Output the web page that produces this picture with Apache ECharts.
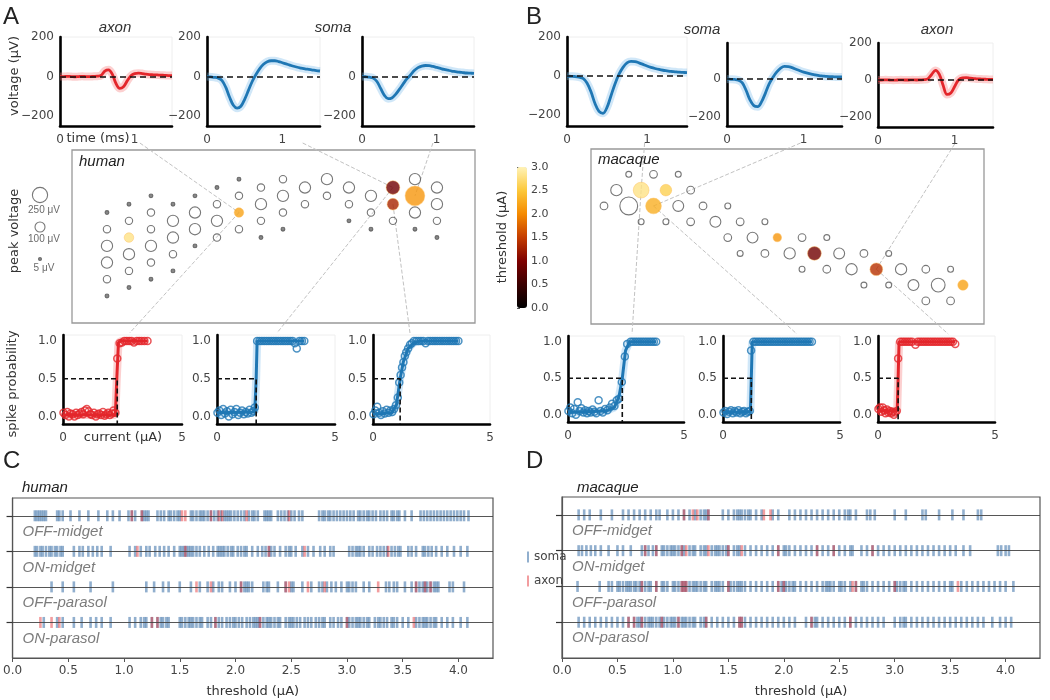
<!DOCTYPE html>
<html>
<head>
<meta charset="utf-8">
<script src="https://cdn.jsdelivr.net/npm/echarts@6/dist/echarts.min.js"></script>
<style>html,body{margin:0;padding:0;background:#fff}#chart{width:1050px;height:700px}</style>
</head>
<body>
<div id="chart"></div>
<script>
// ======================= DATA =======================
const waveTime = [0,0.05,0.1,0.15,0.2,0.25,0.3,0.35,0.4,0.45,0.5,0.55,0.6,0.65,0.7,0.75,0.8,0.85,0.9,0.95,1.0,1.05,1.1,1.15,1.2,1.25,1.3,1.35,1.4,1.45,1.5];
const humanAxonWave   = [0,0,1,0,-1,0,1,0,0,1,2,6,28,34,12,-35,-60,-52,-22,4,15,17,15,12,10,9,8,7,6,5,5];
const humanSomaWave1  = [0,-2,-4,-8,-20,-55,-105,-145,-160,-150,-115,-70,-25,10,40,62,75,80,80,76,70,64,58,52,47,43,39,36,33,30,28];
const humanSomaWave2  = [0,-1,-3,-8,-25,-60,-95,-112,-108,-90,-65,-38,-12,8,30,45,53,56,55,51,46,41,36,32,28,25,22,20,18,17,16];
const macaqueSomaWave1 = [0,-1,-2,-5,-12,-35,-80,-140,-180,-190,-160,-100,-40,10,45,68,75,74,68,60,52,45,39,34,30,27,24,22,20,19,18];
const macaqueSomaWave2 = [0,-1,-2,-6,-20,-60,-110,-140,-145,-120,-75,-25,10,38,58,67,66,60,52,44,37,31,26,22,18,16,14,13,12,11,11];
const macaqueAxonWave  = [0,0,1,0,-1,0,1,0,0,1,0,1,2,6,30,52,30,-30,-78,-70,-35,0,12,13,10,8,6,5,4,3,3];
const waveLabelsFull = [-200,0,200];
const waveLabelsShort = [-200,0];

// electrodes: [column, row, peak voltage (µV)] ; filled: [column, row, peak voltage, threshold (µA)]
const humanHollow = [
 [0,4,10],[0,6,50],[0,8,130],[0,10,130],[0,12,50],[0,14,10],
 [1,3,10],[1,5,50],[1,9,130],[1,11,50],[1,13,10],
 [2,2,10],[2,4,50],[2,6,50],[2,8,130],[2,10,50],[2,12,10],
 [3,3,10],[3,5,130],[3,7,130],[3,9,50],[3,11,10],
 [4,2,10],[4,4,130],[4,6,130],[4,8,10],
 [5,1,10],[5,3,50],[5,5,130],[5,7,50],
 [6,0,10],[6,2,50],[6,6,50],
 [7,1,50],[7,3,130],[7,5,50],[7,7,10],
 [8,0,50],[8,2,130],[8,4,50],[8,6,10],
 [9,1,130],[9,3,50],
 [10,0,130],[10,2,50],
 [11,1,130],[11,3,50],[11,5,10],
 [12,2,130],[12,4,50],[12,6,10],
 [13,5,50],
 [14,0,130],[14,4,130],[14,6,10],
 [15,1,130],[15,3,130],[15,5,50],[15,7,10]
];
const humanFilled = [[1,7,90,2.8],[6,4,90,2.2],[13,1,200,0.9],[13,3,140,1.3],[14,2,430,2.1]];
const macaqueHollow = [
 [2,1,30],[4,1,55],[6,1,30],
 [1,2,130],[7,2,55],
 [0,3,55],[2,3,350],[6,3,120],[8,3,55],[10,3,30],
 [3,4,30],[5,4,30],[7,4,55],[9,4,120],[11,4,55],[13,4,30],
 [10,5,55],[12,5,120],[16,5,55],[18,5,30],
 [11,6,30],[13,6,55],[15,6,130],[19,6,120],[21,6,55],[23,6,30],
 [16,7,30],[18,7,55],[20,7,130],[24,7,130],[26,7,55],[28,7,30],
 [21,8,30],[23,8,30],[25,8,120],[27,8,200],
 [26,9,55],[28,9,55]
];
const macaqueFilled = [[3,2,270,2.8],[5,2,140,2.6],[4,3,270,2.3],[14,5,70,2.1],[17,6,200,0.9],[22,7,170,1.4],[29,8,110,2.2]];
const sizeLegendValues = [250,100,5];
const colorbarTicks = [0,0.5,1,1.5,2,2.5,3];

// spike probability: [current (µA), probability]
const humanAxonSpike = [[0.02,0.05],[0.1,0.02],[0.18,0.06],[0.25,0],[0.32,0.04],[0.4,0.03],[0.48,0],[0.55,0.05],[0.62,0.02],[0.7,0.04],[0.78,0.06],[0.85,0.03],[0.92,0.08],[1.0,0.1],[1.08,0.07],[1.15,0.03],[1.22,0.02],[1.3,0.05],[1.38,0],[1.45,0.03],[1.52,0.04],[1.6,0.02],[1.68,0.06],[1.75,0.01],[1.82,0.03],[1.9,0.05],[1.97,0.02],[2.05,0.04],[2.12,0.08],[2.2,0.05],[2.28,0.77],[2.38,0.97],[2.48,0.98],[2.58,1],[2.68,1],[2.78,1],[2.88,1],[2.98,0.98],[3.1,1],[3.2,1],[3.3,1],[3.42,1],[3.55,1]];
const humanAxonFit = [[0,0.02],[2.2,0.02],[2.26,0.5],[2.33,0.98],[2.45,1],[3.55,1]];
const humanSoma1Spike = [[0.02,0.05],[0.1,0.08],[0.18,0.02],[0.26,0.1],[0.34,0.04],[0.42,0.07],[0.5,0],[0.58,0.09],[0.66,0.03],[0.74,0.06],[0.82,0.1],[0.9,0.02],[0.98,0.05],[1.06,0.08],[1.14,0.03],[1.22,0.06],[1.3,0.04],[1.38,0.09],[1.46,0.05],[1.54,0.07],[1.6,0.12],[1.7,1],[1.8,1],[1.9,1],[2.0,1],[2.1,1],[2.2,1],[2.3,1],[2.4,1],[2.5,1],[2.6,1],[2.7,1],[2.8,1],[2.9,1],[3.0,1],[3.1,1],[3.2,1],[3.3,0.97],[3.38,0.9],[3.5,1],[3.6,1],[3.7,1]];
const humanSoma1Fit = [[0,0.05],[1.6,0.06],[1.66,0.5],[1.7,1],[3.7,1]];
const humanSoma2Spike = [[0.02,0.03],[0.1,0.08],[0.18,0.13],[0.26,0.05],[0.34,0.02],[0.42,0.07],[0.5,0.04],[0.58,0.09],[0.66,0.05],[0.74,0.08],[0.82,0.06],[0.9,0.1],[0.98,0.15],[1.06,0.25],[1.12,0.45],[1.18,0.55],[1.24,0.65],[1.3,0.72],[1.36,0.8],[1.42,0.85],[1.5,0.9],[1.58,0.95],[1.66,0.97],[1.75,1],[1.85,1],[1.95,1],[2.05,1],[2.15,1],[2.25,0.97],[2.35,1],[2.45,1],[2.55,1],[2.65,1],[2.75,1],[2.85,1],[2.95,1],[3.05,1],[3.15,1],[3.25,1],[3.35,1],[3.45,1],[3.55,1],[3.65,1]];
const humanSoma2Fit = [[0,0.03],[0.8,0.05],[1.0,0.15],[1.16,0.5],[1.3,0.73],[1.5,0.9],[1.75,0.98],[2.0,1],[3.65,1]];
const macaqueSoma1Spike = [[0.02,0.05],[0.1,0.1],[0.18,0.02],[0.26,0.08],[0.34,0],[0.42,0.17],[0.5,0.05],[0.58,0.09],[0.66,0.03],[0.74,0.06],[0.82,0.02],[0.9,0.05],[0.98,0.03],[1.06,0.07],[1.14,0.04],[1.22,0.02],[1.32,0.2],[1.4,0.05],[1.5,0.03],[1.6,0.08],[1.7,0.06],[1.8,0.1],[1.9,0.15],[2.0,0.12],[2.1,0.2],[2.2,0.22],[2.32,0.45],[2.45,0.8],[2.55,0.97],[2.7,1],[2.8,1],[2.9,1],[3.0,1],[3.1,1],[3.2,1],[3.3,1],[3.4,1],[3.5,1],[3.6,1],[3.7,1],[3.8,1]];
const macaqueSoma1Fit = [[0,0.03],[1.6,0.05],[2.0,0.1],[2.2,0.25],[2.34,0.5],[2.48,0.88],[2.65,1],[3.8,1]];
const macaqueSoma2Spike = [[0.02,0.03],[0.1,0.05],[0.18,0.01],[0.26,0.04],[0.34,0.06],[0.42,0.02],[0.5,0.05],[0.58,0.03],[0.66,0.06],[0.74,0.02],[0.82,0.04],[0.9,0.05],[0.98,0.02],[1.06,0.04],[1.14,0.05],[1.2,0.88],[1.3,1],[1.4,1],[1.5,1],[1.6,1],[1.7,1],[1.8,1],[1.9,1],[2.0,1],[2.1,1],[2.2,1],[2.3,1],[2.4,1],[2.5,1],[2.6,1],[2.7,1],[2.8,1],[2.9,1],[3.0,1],[3.1,1],[3.2,1],[3.3,1],[3.4,1],[3.5,1],[3.6,1],[3.7,1],[3.8,1]];
const macaqueSoma2Fit = [[0,0.03],[1.17,0.04],[1.21,0.5],[1.25,1],[3.8,1]];
const macaqueAxonSpike = [[0.02,0.08],[0.08,0.1],[0.14,0.04],[0.2,0.1],[0.26,0.06],[0.32,0.02],[0.38,0.07],[0.44,0.03],[0.5,0.05],[0.56,0.02],[0.62,0.04],[0.68,0],[0.74,0.03],[0.8,0.05],[0.86,0.77],[0.95,1],[1.05,1],[1.15,1],[1.25,1],[1.35,1],[1.45,1],[1.6,0.96],[1.7,1],[1.8,1],[1.9,1],[2.0,1],[2.1,1],[2.2,1],[2.3,1],[2.4,1],[2.5,1],[2.6,1],[2.7,1],[2.8,1],[2.9,1],[3.0,1],[3.1,1],[3.2,1],[3.3,0.97]];
const macaqueAxonFit = [[0,0.05],[0.82,0.05],[0.86,0.5],[0.9,1],[3.3,1]];
const humanThreshold = [2.28,1.66,1.16];
const macaqueThreshold = [2.34,1.21,0.86];
const spikeYLabels = [0,0.5,1];
const spikeXLabels = [0,5];

// rasters of thresholds (µA) per cell type
const cellTypes = ['OFF-midget','ON-midget','OFF-parasol','ON-parasol'];
const rasterTicks = [0,0.5,1,1.5,2,2.5,3,3.5,4];
const humanSomaThr = [
 [0.2,0.22,0.24,0.26,0.28,0.3,0.4,0.42,0.45,0.52,0.6,0.68,0.77,0.85,0.9,0.96,1.04,1.07,1.1,1.16,1.18,1.2,1.22,1.3,1.33,1.36,1.4,1.42,1.45,1.48,1.5,1.6,1.62,1.65,1.68,1.7,1.72,1.75,1.78,1.81,1.84,1.87,1.9,1.92,1.94,1.96,1.99,2.02,2.05,2.08,2.12,2.15,2.17,2.2,2.26,2.28,2.3,2.32,2.38,2.41,2.44,2.47,2.5,2.53,2.57,2.6,2.75,2.78,2.8,2.83,2.85,2.88,2.91,2.94,2.97,3.0,3.03,3.06,3.1,3.12,3.15,3.18,3.2,3.23,3.26,3.3,3.33,3.36,3.4,3.42,3.45,3.47,3.52,3.58,3.66,3.69,3.72,3.75,3.78,3.81,3.84,3.87,3.9,3.93,3.96,3.99,4.02,4.05,4.09],
 [0.2,0.22,0.25,0.27,0.3,0.33,0.35,0.38,0.4,0.43,0.45,0.55,0.6,0.63,0.68,0.72,0.76,0.8,0.88,1.05,1.1,1.15,1.2,1.23,1.28,1.32,1.36,1.4,1.45,1.5,1.52,1.54,1.56,1.58,1.6,1.62,1.65,1.68,1.72,1.76,1.8,1.84,1.86,1.88,1.9,1.93,1.96,1.98,2.02,2.05,2.08,2.1,2.15,2.2,2.24,2.27,2.3,2.32,2.35,2.4,2.45,2.48,2.5,2.54,2.6,2.65,2.7,2.76,2.8,2.85,2.88,3.02,3.05,3.08,3.1,3.12,3.15,3.2,3.23,3.27,3.3,3.33,3.36,3.4,3.43,3.46,3.48,3.55,3.58,3.62,3.68,3.7,3.73,3.76,3.8,3.85,3.9,3.96,4.02,4.08],
 [0.35,0.45,0.55,0.7,0.9,1.2,1.27,1.35,1.4,1.5,1.6,1.68,1.75,1.8,1.85,1.88,1.95,2.0,2.05,2.08,2.1,2.12,2.15,2.25,2.28,2.3,2.38,2.45,2.5,2.52,2.6,2.68,2.75,2.78,2.82,2.86,2.9,2.95,3.0,3.02,3.05,3.08,3.15,3.2,3.35,3.38,3.42,3.45,3.52,3.58,3.62,3.65,3.68,3.7,3.72,3.75,3.78,3.8,3.82,3.92,3.95,4.05],
 [0.28,0.4,0.45,0.55,0.62,0.7,0.75,0.8,0.88,1.05,1.1,1.15,1.18,1.2,1.25,1.3,1.33,1.35,1.38,1.4,1.5,1.52,1.55,1.58,1.6,1.62,1.65,1.68,1.7,1.75,1.78,1.82,1.85,1.88,1.92,1.95,1.98,2.0,2.03,2.06,2.1,2.13,2.16,2.18,2.2,2.22,2.25,2.28,2.3,2.32,2.35,2.38,2.4,2.45,2.48,2.5,2.52,2.55,2.58,2.62,2.65,2.68,2.72,2.75,2.78,2.8,2.85,2.88,2.92,2.95,3.0,3.02,3.05,3.08,3.1,3.12,3.15,3.18,3.2,3.25,3.28,3.3,3.33,3.36,3.4,3.42,3.45,3.5,3.55,3.62,3.65,3.68,3.7,3.72,3.75,3.78,3.8,3.85,3.9,3.95,4.02,4.08]
];
const humanAxonThr = [
 [1.07,1.16,1.52,1.55,1.78,1.85,1.88,2.1,2.48],
 [1.12,1.55,2.3,2.62,3.37],
 [1.65,1.78,2.05,2.45,2.48,2.65,2.8,3.28,3.62,3.7,3.75],
 [0.25,0.35,0.42,1.25,1.3,1.82,2.22,3.0,3.6]
];
const macaqueSomaThr = [
 [0.15,0.2,0.25,0.35,0.45,0.55,0.6,0.65,0.7,0.75,0.8,0.85,0.88,0.95,1.0,1.05,1.1,1.15,1.2,1.25,1.28,1.3,1.32,1.45,1.5,1.55,1.58,1.6,1.62,1.65,1.68,1.7,1.75,1.8,1.9,1.95,2.05,2.1,2.15,2.2,2.25,2.3,2.35,2.4,2.45,2.5,2.55,2.58,2.6,2.65,2.75,2.78,2.82,3.0,3.1,3.25,3.28,3.4,3.52,3.62,3.75,3.78],
 [0.15,0.18,0.22,0.26,0.3,0.35,0.42,0.5,0.55,0.62,0.72,0.75,0.78,0.82,0.85,0.9,0.92,0.95,0.98,1.0,1.02,1.05,1.08,1.1,1.15,1.18,1.2,1.25,1.28,1.3,1.35,1.38,1.4,1.42,1.45,1.48,1.5,1.55,1.58,1.6,1.65,1.7,1.75,1.8,1.85,1.9,1.95,2.0,2.02,2.05,2.1,2.15,2.2,2.25,2.3,2.35,2.4,2.45,2.5,2.55,2.6,2.62,2.7,2.75,2.8,2.85,2.9,2.95,3.0,3.05,3.1,3.15,3.2,3.25,3.3,3.35,3.4,3.45,3.5,3.55,3.62,3.68,3.93,3.96,4.0,4.03],
 [0.14,0.34,0.42,0.45,0.5,0.52,0.55,0.58,0.6,0.62,0.65,0.67,0.7,0.72,0.75,0.78,0.8,0.85,0.9,0.92,0.95,1.0,1.02,1.05,1.08,1.1,1.12,1.15,1.18,1.2,1.22,1.25,1.28,1.3,1.35,1.38,1.4,1.42,1.45,1.5,1.52,1.55,1.58,1.6,1.62,1.65,1.7,1.75,1.8,1.85,1.9,1.95,1.98,2.0,2.02,2.05,2.08,2.1,2.15,2.2,2.25,2.3,2.35,2.38,2.4,2.42,2.45,2.5,2.52,2.55,2.6,2.65,2.7,2.72,2.75,2.8,2.85,2.9,2.95,3.0,3.02,3.05,3.08,3.1,3.15,3.2,3.25,3.3,3.35,3.4,3.45,3.5,3.52,3.6,3.65,3.7,3.75,3.8,3.85,3.9,3.95,4.0,4.07],
 [0.15,0.2,0.25,0.3,0.35,0.4,0.45,0.5,0.55,0.6,0.65,0.68,0.7,0.72,0.75,0.78,0.8,0.82,0.85,0.88,0.9,0.92,0.95,0.98,1.0,1.02,1.05,1.08,1.1,1.12,1.15,1.18,1.2,1.25,1.28,1.3,1.35,1.4,1.45,1.5,1.55,1.6,1.62,1.65,1.7,1.75,1.8,1.85,1.9,1.95,2.0,2.05,2.1,2.2,2.25,2.28,2.3,2.35,2.4,2.45,2.5,2.55,2.6,2.65,2.7,2.75,2.8,2.85,2.9,3.0,3.05,3.08,3.1,3.15,3.2,3.25,3.3,3.35,3.4,3.45,3.5,3.55,3.6,3.65,3.7,3.75,3.8,3.88,3.95,4.0,4.05]
];
const macaqueAxonThr = [
 [1.1,1.18,1.22,1.32,1.82,1.88],
 [0.75,0.85,1.08,1.12,1.32,1.5,1.62,1.95,2.3,2.45,2.8],
 [0.72,0.85,1.08,1.1,1.12,1.5,1.95,2.0,2.62,2.65,3.0,3.57],
 [0.6,0.65,0.72,0.9,1.05,1.3,1.6,1.62,2.25,2.6]
];

// ======================= STYLE / LAYOUT =======================
const BLUE = '#1f77b4', RED = '#e3262b';
const BLUE_HALO = 'rgba(120,185,235,0.35)', RED_HALO = 'rgba(245,120,120,0.35)';
const TICKFONT = 'DejaVu Sans', TEXTFONT = 'Liberation Sans';
const minus = v => (v < 0 ? '\u2212' + (-v) : String(v));

const grids = [], xAxes = [], yAxes = [], series = [];
function addGrid(g, xa, ya) {
  grids.push(g);
  const i = grids.length - 1;
  xAxes.push(Object.assign({ gridIndex: i }, xa));
  yAxes.push(Object.assign({ gridIndex: i }, ya));
  return i;
}
const blackAxisLine = { show: true, onZero: false, lineStyle: { color: '#000', width: 2.6 } };
const tickLabel = { color: '#444', fontSize: 12, fontFamily: TICKFONT };

// ---- waveform panels ----
const wavePanels = [
  { data: humanAxonWave,    color: RED,  halo: RED_HALO,  box: [60, 37, 112, 89],  yMin: -250, yMax: 200, labels: waveLabelsFull },
  { data: humanSomaWave1,   color: BLUE, halo: BLUE_HALO, box: [207, 37, 113, 89], yMin: -250, yMax: 200, labels: waveLabelsFull },
  { data: humanSomaWave2,   color: BLUE, halo: BLUE_HALO, box: [362, 37, 112, 89], yMin: -250, yMax: 200, labels: waveLabelsShort },
  { data: macaqueSomaWave1, color: BLUE, halo: BLUE_HALO, box: [567, 37, 120, 89], yMin: -255, yMax: 200, labels: waveLabelsFull },
  { data: macaqueSomaWave2, color: BLUE, halo: BLUE_HALO, box: [727, 43, 115, 83], yMin: -247, yMax: 190, labels: waveLabelsShort },
  { data: macaqueAxonWave,  color: RED,  halo: RED_HALO,  box: [878, 43, 115, 84], yMin: -254, yMax: 200, labels: waveLabelsFull }
];
const waveGridIdx = wavePanels.map(p => {
  const g = addGrid(
    { left: p.box[0], top: p.box[1], width: p.box[2], height: p.box[3], show: true, borderColor: '#eeeeee', borderWidth: 1 },
    { type: 'value', min: 0, max: 1.5, axisLine: blackAxisLine, axisTick: { show: false },
      axisLabel: Object.assign({ customValues: [0, 1], margin: 8 }, tickLabel), splitLine: { show: false } },
    { type: 'value', min: p.yMin, max: p.yMax, axisLine: blackAxisLine, axisTick: { show: false },
      axisLabel: Object.assign({ customValues: p.labels, formatter: minus, margin: 6 }, tickLabel), splitLine: { show: false } }
  );
  const pts = waveTime.map((t, k) => [t, p.data[k]]);
  series.push({ type: 'line', xAxisIndex: g, yAxisIndex: g, data: pts, smooth: 0.35, showSymbol: false, silent: true,
    lineStyle: { color: p.halo, width: 8 }, z: 1 });
  series.push({ type: 'line', xAxisIndex: g, yAxisIndex: g, data: pts, smooth: 0.35, showSymbol: false, silent: true,
    lineStyle: { color: p.color, width: 2.8 }, z: 3,
    markLine: { silent: true, symbol: 'none', label: { show: false }, lineStyle: { color: '#111', type: [6, 4], width: 1.6 },
      data: [{ yAxis: 0 }] } });
  return g;
});

// ---- bubble (electrode array) panels ----
const bubbleSize = d => 0.9 * Math.sqrt(d[2]) + 1;
const hollowFill = p => (p.value[2] <= 15 ? '#6a6a6a' : 'rgba(255,255,255,0)');
const filledSeriesIdx = [];
function bubblePanel(box, xr, yr, hollow, filled) {
  const g = addGrid(
    { left: box[0], top: box[1], width: box[2], height: box[3], show: true, borderColor: '#999', borderWidth: 1.3 },
    { type: 'value', min: xr[0], max: xr[1], show: false },
    { type: 'value', min: yr[0], max: yr[1], inverse: true, show: false }
  );
  series.push({ type: 'scatter', xAxisIndex: g, yAxisIndex: g, data: hollow, symbolSize: bubbleSize, silent: true, z: 3,
    itemStyle: { color: hollowFill, borderColor: '#555', borderWidth: 1.1 } });
  series.push({ type: 'scatter', xAxisIndex: g, yAxisIndex: g, data: filled, symbolSize: bubbleSize, silent: true, z: 4,
    itemStyle: { borderColor: 'rgba(255,190,90,0.55)', borderWidth: 1 } });
  filledSeriesIdx.push(series.length - 1);
  return g;
}
const humanBubbleGrid = bubblePanel([72, 150, 403, 173], [-1.59, 16.73], [-3.5, 17.25], humanHollow, humanFilled);
const macaqueBubbleGrid = bubblePanel([591, 149, 393, 175], [-1.05, 30.7], [-0.6, 10.46], macaqueHollow, macaqueFilled);

// size legend
const legGrid = addGrid({ left: 30, top: 195, width: 20, height: 64 },
  { type: 'value', min: 0, max: 1, show: false }, { type: 'value', min: 0, max: 2, inverse: true, show: false });
series.push({ type: 'scatter', xAxisIndex: legGrid, yAxisIndex: legGrid, silent: true,
  data: sizeLegendValues.map((v, i) => [0.5, i, v]), symbolSize: bubbleSize,
  itemStyle: { color: hollowFill, borderColor: '#555', borderWidth: 1.1 },
  label: { show: true, position: 'bottom', distance: 2, offset: [4, 0], formatter: p => p.value[2] + ' \u03bcV',
    fontSize: 10, color: '#444', fontFamily: TEXTFONT } });

// colorbar axis
const cbGrid = addGrid({ left: 517, top: 167, width: 10, height: 141 },
  { type: 'value', min: 0, max: 1, show: false },
  { type: 'value', min: 0, max: 3, position: 'right', axisLine: { show: false },
    axisTick: { show: true, customValues: colorbarTicks, length: 3, lineStyle: { color: '#555' } },
    axisLabel: Object.assign({ customValues: colorbarTicks, formatter: v => v.toFixed(1), margin: 4 }, tickLabel, { fontSize: 11 }),
    splitLine: { show: false } });

// ---- spike probability panels ----
const spikePanels = [
  { pts: humanAxonSpike,    fit: humanAxonFit,    thr: humanThreshold[0],   color: RED,  halo: RED_HALO,  box: [63, 335, 119, 89] },
  { pts: humanSoma1Spike,   fit: humanSoma1Fit,   thr: humanThreshold[1],   color: BLUE, halo: BLUE_HALO, box: [217, 335, 118, 89] },
  { pts: humanSoma2Spike,   fit: humanSoma2Fit,   thr: humanThreshold[2],   color: BLUE, halo: BLUE_HALO, box: [373, 335, 117, 89] },
  { pts: macaqueSoma1Spike, fit: macaqueSoma1Fit, thr: macaqueThreshold[0], color: BLUE, halo: BLUE_HALO, box: [568, 336, 116, 86] },
  { pts: macaqueSoma2Spike, fit: macaqueSoma2Fit, thr: macaqueThreshold[1], color: BLUE, halo: BLUE_HALO, box: [723, 336, 117, 86] },
  { pts: macaqueAxonSpike,  fit: macaqueAxonFit,  thr: macaqueThreshold[2], color: RED,  halo: RED_HALO,  box: [878, 336, 117, 86] }
];
const SPIKE_MIN = -0.1, SPIKE_MAX = 1.08;
const spikeGridIdx = spikePanels.map(p => {
  const g = addGrid(
    { left: p.box[0], top: p.box[1], width: p.box[2], height: p.box[3], show: true, borderColor: '#eeeeee', borderWidth: 1 },
    { type: 'value', min: 0, max: 5, axisLine: blackAxisLine, axisTick: { show: false },
      axisLabel: Object.assign({ customValues: spikeXLabels, margin: 8 }, tickLabel), splitLine: { show: false } },
    { type: 'value', min: SPIKE_MIN, max: SPIKE_MAX, axisLine: blackAxisLine, axisTick: { show: false },
      axisLabel: Object.assign({ customValues: spikeYLabels, formatter: v => v.toFixed(1), margin: 6 }, tickLabel), splitLine: { show: false } }
  );
  series.push({ type: 'line', xAxisIndex: g, yAxisIndex: g, data: p.fit, showSymbol: false, silent: true,
    lineStyle: { color: p.halo, width: 8 }, z: 1 });
  series.push({ type: 'scatter', xAxisIndex: g, yAxisIndex: g, data: p.pts, symbolSize: 7, silent: true, z: 2,
    itemStyle: { color: 'rgba(255,255,255,0)', borderColor: p.color, borderWidth: 1.5 } });
  series.push({ type: 'line', xAxisIndex: g, yAxisIndex: g, data: p.fit, showSymbol: false, silent: true,
    lineStyle: { color: p.color, width: 3 }, z: 3 });
  series.push({ type: 'line', xAxisIndex: g, yAxisIndex: g, data: [[0, 0.5], [p.thr, 0.5], [p.thr, SPIKE_MIN]],
    showSymbol: false, silent: true, lineStyle: { color: '#111', width: 1.6, type: [5, 3] }, z: 4 });
  return g;
});

// ---- raster panels ----
function rasterPanel(box, somaRows, axonRows) {
  const g = addGrid(
    { left: box[0], top: box[1], width: box[2], height: box[3], show: true, borderColor: '#555', borderWidth: 1.2 },
    { type: 'value', min: 0, max: 4.31, axisLine: { show: true, onZero: false, lineStyle: { color: '#555', width: 1.2 } },
      axisTick: { show: true, customValues: rasterTicks, length: 4, lineStyle: { color: '#555' } },
      axisLabel: Object.assign({ customValues: rasterTicks, formatter: v => v.toFixed(1), margin: 7 }, tickLabel),
      splitLine: { show: false },
      name: 'threshold (\u03bcA)', nameLocation: 'middle', nameGap: 27,
      nameTextStyle: { fontSize: 13, color: '#333', fontFamily: TICKFONT } },
    { type: 'value', min: -0.5, max: 4, inverse: true,
      axisLine: { show: true, onZero: false, lineStyle: { color: '#555', width: 1.2 } },
      axisTick: { show: true, customValues: cellTypes.map((c, i) => i), length: 6, lineStyle: { color: '#333', width: 1.2 } },
      axisLabel: { show: true, inside: true, customValues: cellTypes.map((c, i) => i + 0.45), margin: 10,
        formatter: v => cellTypes[Math.round(v - 0.45)], fontStyle: 'italic', fontSize: 15, color: '#7c7c7c', fontFamily: TEXTFONT },
      splitLine: { show: false } }
  );
  const somaData = [], axonData = [];
  somaRows.forEach((row, i) => row.forEach(v => somaData.push([v, i])));
  axonRows.forEach((row, i) => row.forEach(v => axonData.push([v, i])));
  series.push({ type: 'scatter', name: 'soma', xAxisIndex: g, yAxisIndex: g, data: somaData, symbol: 'rect', symbolSize: [2.6, 11],
    silent: true, itemStyle: { color: '#235f9e', opacity: 0.5 }, z: 2 });
  series.push({ type: 'scatter', name: 'axon', xAxisIndex: g, yAxisIndex: g, data: axonData, symbol: 'rect', symbolSize: [2.6, 11],
    silent: true, itemStyle: { color: RED, opacity: 0.45 }, z: 2,
    markLine: { silent: true, symbol: 'none', label: { show: false }, lineStyle: { color: '#444', width: 1.2, type: 'solid', opacity: 0.9 },
      data: cellTypes.map((c, i) => ({ yAxis: i })) } });
  return g;
}
rasterPanel([11, 498, 482, 160], humanSomaThr, humanAxonThr);
rasterPanel([562, 497, 478, 161], macaqueSomaThr, macaqueAxonThr);

// ---- text annotations ----
function txt(id, text, x, y, font, align, rot, fill) {
  return { type: 'text', id, x, y, rotation: rot || 0, z: 20, silent: true,
    style: { text, font, fill: fill || '#222', textAlign: align || 'left', textVerticalAlign: 'middle' } };
}
const F = (s, st) => (st || '') + ' ' + s + "px '" + TEXTFONT + "'";
const texts = [
  txt('tA', 'A', 3, 17, F(24), 'left'),
  txt('tB', 'B', 526, 17, F(24), 'left'),
  txt('tC', 'C', 3, 461, F(24), 'left'),
  txt('tD', 'D', 526, 461, F(24), 'left'),
  txt('ta1', 'axon', 115, 28, F(15, 'italic'), 'center', 0, '#333'),
  txt('ta2', 'soma', 333, 28, F(15, 'italic'), 'center', 0, '#333'),
  txt('tb1', 'soma', 702, 30, F(15, 'italic'), 'center', 0, '#333'),
  txt('tb2', 'axon', 937, 30, F(15, 'italic'), 'center', 0, '#333'),
  txt('ttime', 'time (ms)', 98, 139, "13px '" + TICKFONT + "'", 'center', 0, '#333'),
  txt('tvolt', 'voltage (\u03bcV)', 15, 76, "13px '" + TICKFONT + "'", 'center', Math.PI / 2, '#333'),
  txt('thum', 'human', 79, 162, F(15, 'italic'), 'left', 0, '#222'),
  txt('tmac', 'macaque', 598, 160, F(15, 'italic'), 'left', 0, '#222'),
  txt('tpeak', 'peak voltage', 15, 231, "13px '" + TICKFONT + "'", 'center', Math.PI / 2, '#333'),
  txt('tthr', 'threshold (\u03bcA)', 503, 237, "13px '" + TICKFONT + "'", 'center', Math.PI / 2, '#333'),
  txt('tspk', 'spike probability', 13, 384, "13px '" + TICKFONT + "'", 'center', Math.PI / 2, '#333'),
  txt('tcur', 'current (\u03bcA)', 123, 438, "13px '" + TICKFONT + "'", 'center', 0, '#333'),
  txt('thum2', 'human', 22, 488, F(15, 'italic'), 'left', 0, '#222'),
  txt('tmac2', 'macaque', 577, 488, F(15, 'italic'), 'left', 0, '#222')
];

const option = {
  animation: false,
  backgroundColor: '#ffffff',
  grid: grids,
  xAxis: xAxes,
  yAxis: yAxes,
  series: series,
  visualMap: [{
    type: 'continuous', min: 0, max: 3, dimension: 3, seriesIndex: filledSeriesIdx,
    left: 517, top: 167, itemWidth: 10, itemHeight: 141, padding: 0, calculable: false, text: null,
    showLabel: false, hoverLink: false,
    inRange: { color: ['#000000', '#3a0000', '#7e0000', '#c43c00', '#f58a00', '#fcc83a', '#fff3b8'] }
  }],
  legend: {
    data: ['soma', 'axon'], orient: 'vertical', left: 522, top: 546, itemWidth: 2, itemHeight: 11, itemGap: 12,
    icon: 'rect', selectedMode: false, textStyle: { fontSize: 12, color: '#444', fontFamily: TICKFONT }
  },
  graphic: { elements: texts }
};

const chart = echarts.init(document.getElementById('chart'));
chart.setOption(option);

// ---- connector lines between example electrodes and their panels ----
const connectorLinks = [
  { wave: 0, waveT: 1.07, set: 'human', elec: 1, spike: 0, spikeX: 2.8 },
  { wave: 1, waveT: 1.27, set: 'human', elec: 2, spike: 1, spikeX: 2.54 },
  { wave: 2, waveT: 0.95, set: 'human', elec: 4 },
  { set: 'human', elec: 3, spike: 2, spikeX: 1.58 },
  { wave: 3, waveT: 0.97, set: 'macaque', elec: 0, spike: 3, spikeX: 2.76 },
  { wave: 4, waveT: 0.96, set: 'macaque', elec: 2, spike: 4, spikeX: 3.16 },
  { wave: 5, waveT: 1.0, set: 'macaque', elec: 5, spike: 5, spikeX: 3.0 }
];
const lineEls = [];
connectorLinks.forEach((lk, i) => {
  const list = lk.set === 'human' ? humanFilled : macaqueFilled;
  const bg = lk.set === 'human' ? humanBubbleGrid : macaqueBubbleGrid;
  const e = list[lk.elec];
  const pb = chart.convertToPixel({ gridIndex: bg }, [e[0], e[1]]);
  const ls = { stroke: '#c2c2c2', lineWidth: 1, lineDash: [4, 2] };
  if (lk.wave !== undefined) {
    const pw = chart.convertToPixel({ gridIndex: waveGridIdx[lk.wave] }, [lk.waveT, wavePanels[lk.wave].yMin]);
    lineEls.push({ type: 'line', id: 'cw' + i, z: 0, silent: true, shape: { x1: pw[0], y1: pw[1] + 17, x2: pb[0], y2: pb[1] }, style: ls });
  }
  if (lk.spike !== undefined) {
    const ps = chart.convertToPixel({ gridIndex: spikeGridIdx[lk.spike] }, [lk.spikeX, SPIKE_MAX]);
    lineEls.push({ type: 'line', id: 'cs' + i, z: 0, silent: true, shape: { x1: pb[0], y1: pb[1], x2: ps[0], y2: ps[1] - 2 }, style: ls });
  }
});
chart.setOption({ graphic: { elements: lineEls } });
</script>
</body>
</html>
